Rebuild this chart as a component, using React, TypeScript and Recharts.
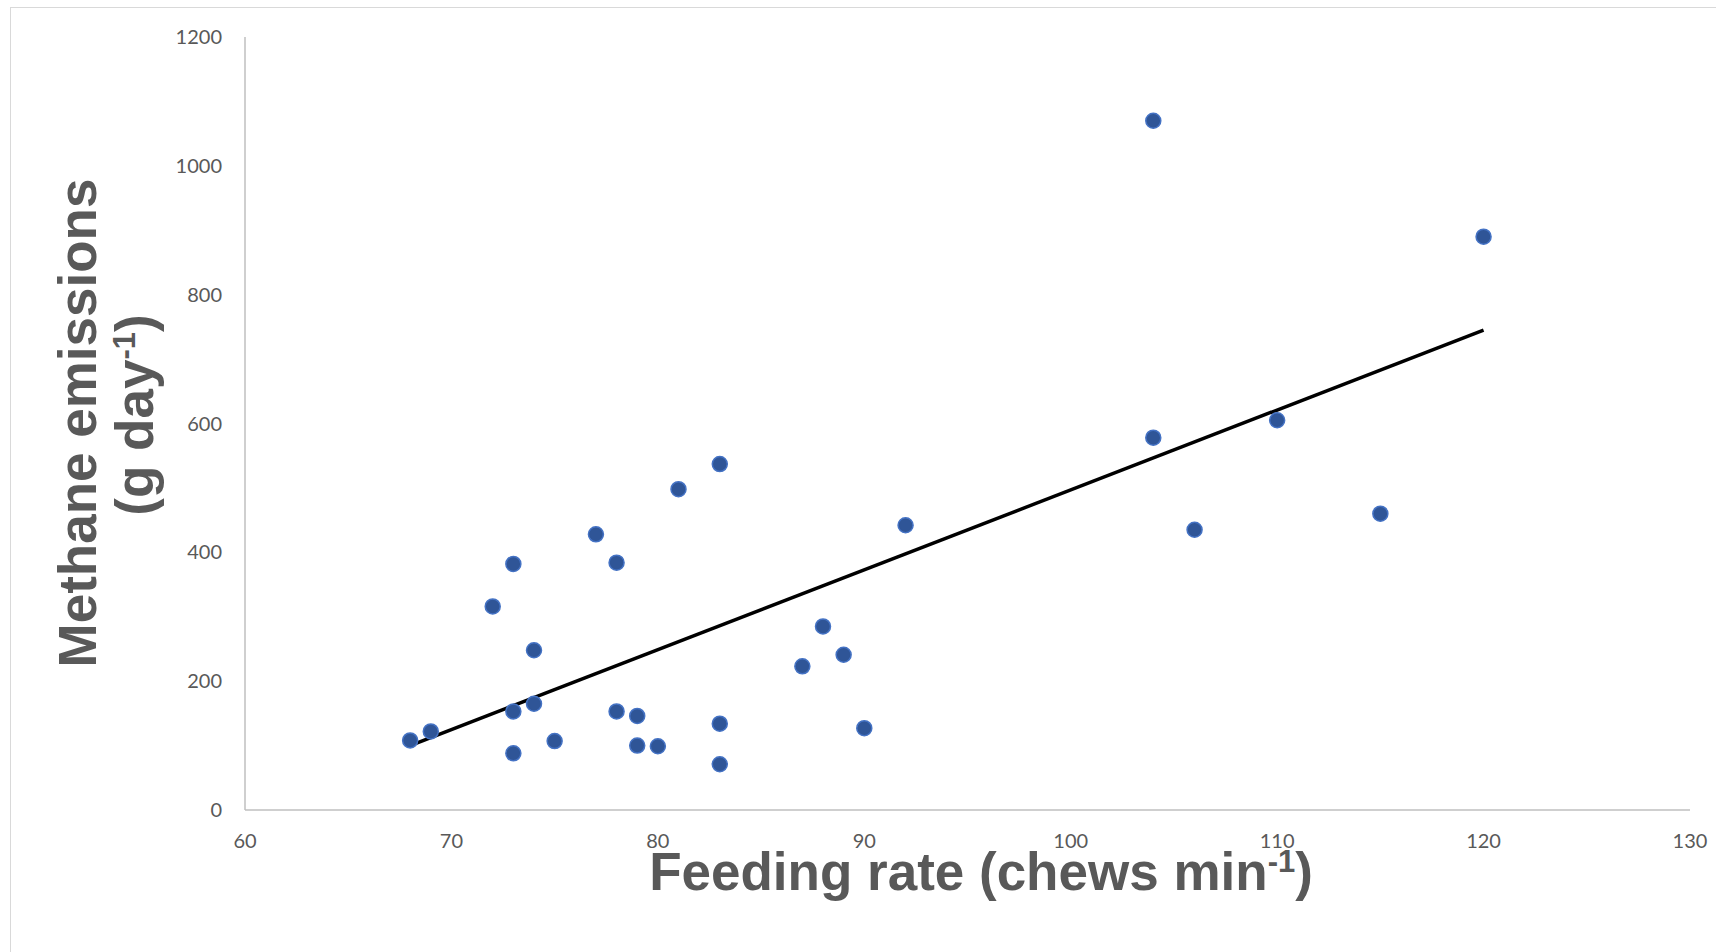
import { ScatterChart, Scatter, XAxis, YAxis } from 'recharts'

// feeding rate (chews/min) vs methane (g/day)
const feedingRate = [68, 69, 72, 73, 73, 73, 74, 74, 75, 77, 78, 78, 79, 79, 80, 81, 83, 83, 83, 87, 88, 89, 90, 92, 104, 104, 106, 110, 115, 120]
const methane = [108, 122, 316, 382, 153, 88, 248, 165, 107, 428, 384, 153, 146, 100, 99, 498, 537, 134, 71, 223, 285, 241, 127, 442, 1070, 578, 435, 605, 460, 890]

// linear trendline end points
const trendX = [68, 120]
const trendY = [100, 745]

const xTicks = [60, 70, 80, 90, 100, 110, 120, 130]
const yTicks = [0, 200, 400, 600, 800, 1000, 1200]

const points = feedingRate.map((x, i) => ({ x, y: methane[i] }))
const trend = trendX.map((x, i) => ({ x, y: trendY[i] }))

const GREY = '#595959'
const AXIS = '#bfbfbf'
const TITLE_FONT = '"Liberation Sans", Arial, sans-serif'

const Dot = (props: any) => (
  <circle cx={props.cx} cy={props.cy} r={7.5} fill="#2F5597" stroke="#4472C4" strokeWidth={1.5} />
)

const XTitle = () => (
  <text x={981} y={890} textAnchor="middle" fontFamily={TITLE_FONT} fontWeight="bold" fontSize={53} fill={GREY}>
    Feeding rate (chews min
    <tspan dy={-18} fontSize={31}>-1</tspan>
    <tspan dy={18}>)</tspan>
  </text>
)

const YTitle = () => (
  <g fontFamily={TITLE_FONT} fontWeight="bold" fontSize={53} fill={GREY}>
    <text x={96} y={423} textAnchor="middle" transform="rotate(-90, 96, 423)">
      Methane emissions
    </text>
    <text x={153} y={415} textAnchor="middle" transform="rotate(-90, 153, 415)">
      (g day
      <tspan dy={-18} fontSize={31}>-1</tspan>
      <tspan dy={18}>)</tspan>
    </text>
  </g>
)

export default function App() {
  return (
    <div style={{ position: 'absolute', left: 0, top: 0, width: 1716, height: 952, overflow: 'hidden', background: '#fff' }}>
      <div style={{ position: 'absolute', left: 10, top: 7, width: 1800, height: 1000, border: '1.5px solid #d9d9d9' }} />
      <div style={{ position: 'absolute', left: 0, top: 0 }}>
        <ScatterChart width={1716} height={952} margin={{ top: 37, right: 26, bottom: 82, left: 0 }}>
          <XAxis
            type="number"
            dataKey="x"
            domain={[60, 130]}
            ticks={xTicks}
            allowDataOverflow
            height={60}
            tickLine={false}
            tickSize={0}
            tickMargin={24}
            axisLine={{ stroke: AXIS, strokeWidth: 1.5 }}
            tick={{ fill: GREY, fontSize: 20, fontFamily: 'Lato, sans-serif' }}
            label={{ content: () => <XTitle /> }}
          />
          <YAxis
            type="number"
            dataKey="y"
            domain={[0, 1200]}
            ticks={yTicks}
            allowDataOverflow
            width={245}
            tickLine={false}
            tickSize={0}
            tickMargin={23}
            axisLine={{ stroke: AXIS, strokeWidth: 1.5 }}
            tick={{ fill: GREY, fontSize: 20, fontFamily: 'Lato, sans-serif' }}
            label={{ content: () => <YTitle /> }}
          />
          <Scatter
            data={trend}
            line={{ stroke: '#000', strokeWidth: 3.5 }}
            shape={() => <g />}
            isAnimationActive={false}
          />
          <Scatter data={points} shape={Dot} isAnimationActive={false} />
        </ScatterChart>
      </div>
    </div>
  )
}
